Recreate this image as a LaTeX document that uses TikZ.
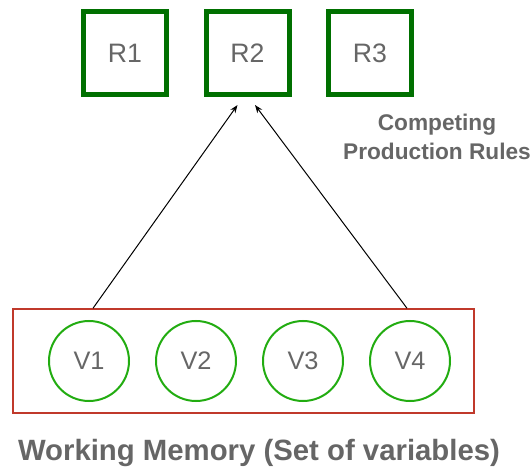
\documentclass[tikz,border=0pt]{standalone}
\usepackage{fontspec}
\setmainfont{Liberation Sans}
\usepackage{tikz}
\usetikzlibrary{arrows.meta,calc}

\definecolor{rulegreen}{RGB}{0,112,0}
\definecolor{vargreen}{RGB}{34,172,17}
\definecolor{memred}{RGB}{192,57,43}
\definecolor{labelgray}{RGB}{102,102,102}

\tikzset{
  rulebox/.style={draw=rulegreen, line width=3.75pt, minimum size=62.25pt, inner sep=0pt,
    text=labelgray, font=\fontsize{20}{24}\selectfont},
  varnode/.style={circle, draw=vargreen, line width=1.5pt, minimum size=60pt, inner sep=0pt,
    text=labelgray, font=\fontsize{19}{23}\selectfont},
  membox/.style={draw=memred, line width=1.1pt, minimum width=345.75pt, minimum height=78pt, inner sep=0pt},
  caption/.style={text=labelgray, align=center, inner sep=0pt},
  fire/.style={-{Stealth[length=6pt,width=4.5pt]}, line width=0.75pt}
}

\begin{document}
\begin{tikzpicture}[x=0.75pt,y=0.75pt,yscale=-1,xscale=1]
\useasboundingbox (0,0) rectangle (532,470);

% Production rules
\node [rulebox] (r1) at (125,53) {R1};
\node [rulebox] (r2) at (247.5,53) {R2};
\node [rulebox] (r3) at (370,53) {R3};

% Text Node
\node [caption, font=\fontsize{17}{21.75}\selectfont\bfseries] (rules) at (437,137) {Competing\\Production Rules};

% Working memory
\node [membox] (wm) at (243.5,361) {};
\node [varnode] (v1) at (89,361) {V1};
\node [varnode] (v2) at (196,361) {V2};
\node [varnode] (v3) at (303,361) {V3};
\node [varnode] (v4) at (410,361) {V4};

% Text Node
\node [caption, font=\fontsize{22}{26}\selectfont\bfseries] (memory) at (259,453) {Working Memory (Set of variables)};

% Matching
\coordinate (t1) at ($(v1 |- wm.north)+(4,0)$);
\coordinate (t4) at ($(v4 |- wm.north)+(-3,0)$);
\coordinate (h1) at ($(r2.south)+(-10,8)$);
\coordinate (h4) at ($(r2.south)+(7.5,8)$);
\draw [fire] (t1) -- (h1);
\draw [fire] (t4) -- (h4);

\end{tikzpicture}
\end{document}
